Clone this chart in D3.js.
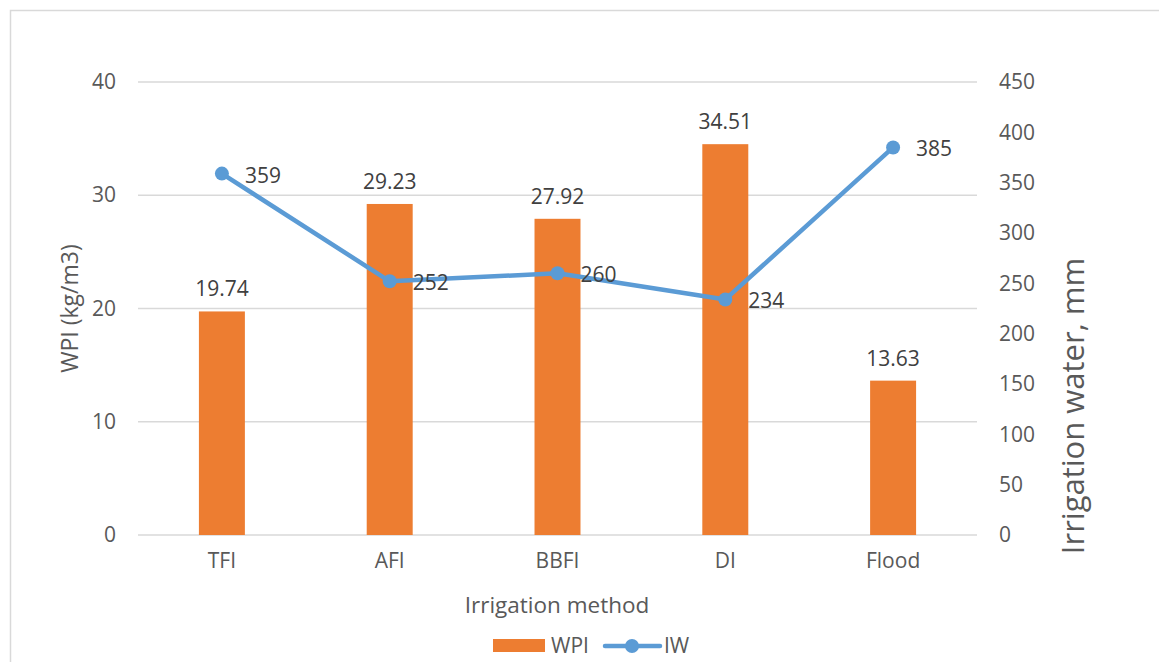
<!DOCTYPE html>
<html>
<head>
<meta charset="utf-8">
<script src="https://cdn.jsdelivr.net/npm/d3@7"></script>
<style>
  html, body { margin: 0; padding: 0; background: #fff; }
  svg { display: block; font-family: "Open Sans", sans-serif; }
</style>
</head>
<body>
<svg id="chart" width="1159" height="662"></svg>
<script>
// Irrigation methods and their measured values
const methods = ["TFI", "AFI", "BBFI", "DI", "Flood"];
const wpiValues = [19.74, 29.23, 27.92, 34.51, 13.63];   // kg/m3
const iwValues = [359, 252, 260, 234, 385];               // mm
const leftTicks = [0, 10, 20, 30, 40];
const rightTicks = [0, 50, 100, 150, 200, 250, 300, 350, 400, 450];

const barColor = "#ED7D31";
const lineColor = "#5B9BD5";
const textColor = "#595959";
const gridColor = "#d9d9d9";
const fs = 21;

const svg = d3.select("#chart");
const plot = { left: 138, right: 977, top: 82, bottom: 535 };

// outer chart frame
svg.append("rect")
  .attr("x", 10.5).attr("y", 10.5)
  .attr("width", 1160).attr("height", 670)
  .attr("fill", "none").attr("stroke", gridColor).attr("stroke-width", 1.5);

const x = d3.scaleBand()
  .domain(methods)
  .range([plot.left, plot.right])
  .paddingInner(0.726)
  .paddingOuter(0.363);

const yL = d3.scaleLinear().domain([0, 40]).range([plot.bottom, plot.top]);
const yR = d3.scaleLinear().domain([0, 450]).range([plot.bottom, plot.top]);

// gridlines
svg.append("g").selectAll("line").data(leftTicks).join("line")
  .attr("x1", plot.left).attr("x2", plot.right)
  .attr("y1", d => yL(d)).attr("y2", d => yL(d))
  .attr("stroke", gridColor).attr("stroke-width", 1.5);

// left axis labels
const leftAxis = svg.append("g")
  .attr("transform", `translate(${plot.left - 22},0)`)
  .call(d3.axisLeft(yL).tickValues(leftTicks).tickSize(0).tickPadding(0));
leftAxis.select(".domain").remove();
leftAxis.selectAll("text")
  .attr("font-size", fs).attr("fill", textColor)
  .attr("font-family", "Open Sans, sans-serif");

// right axis labels
const rightAxis = svg.append("g")
  .attr("transform", `translate(${plot.right + 22},0)`)
  .call(d3.axisRight(yR).tickValues(rightTicks).tickSize(0).tickPadding(0));
rightAxis.select(".domain").remove();
rightAxis.selectAll("text")
  .attr("font-size", fs).attr("fill", textColor)
  .attr("font-family", "Open Sans, sans-serif");

// category axis labels
const bottomAxis = svg.append("g")
  .attr("transform", `translate(0,${plot.bottom + 18})`)
  .call(d3.axisBottom(x).tickSize(0).tickPadding(0));
bottomAxis.select(".domain").remove();
bottomAxis.selectAll("text")
  .attr("font-size", fs).attr("fill", textColor)
  .attr("font-family", "Open Sans, sans-serif");

// WPI bars
const barData = methods.map((m, i) => ({ m, v: wpiValues[i] }));
svg.append("g").selectAll("rect").data(barData).join("rect")
  .attr("x", d => x(d.m))
  .attr("y", d => yL(d.v))
  .attr("width", x.bandwidth())
  .attr("height", d => yL(0) - yL(d.v))
  .attr("fill", barColor);

svg.append("g").selectAll("text").data(barData).join("text")
  .attr("x", d => x(d.m) + x.bandwidth() / 2)
  .attr("y", d => yL(d.v) - 15)
  .attr("text-anchor", "middle")
  .attr("font-size", fs).attr("fill", "#404040")
  .text(d => d.v.toFixed(2));

// IW line
const lineData = methods.map((m, i) => ({ m, v: iwValues[i] }));
const cx = d => x(d.m) + x.bandwidth() / 2;
svg.append("path")
  .datum(lineData)
  .attr("d", d3.line().x(cx).y(d => yR(d.v)))
  .attr("fill", "none").attr("stroke", lineColor)
  .attr("stroke-width", 4.5).attr("stroke-linejoin", "round");

svg.append("g").selectAll("circle").data(lineData).join("circle")
  .attr("cx", cx).attr("cy", d => yR(d.v)).attr("r", 7)
  .attr("fill", lineColor);

svg.append("g").selectAll("text").data(lineData).join("text")
  .attr("x", d => cx(d) + 23)
  .attr("y", d => yR(d.v) + 9)
  .attr("font-size", fs).attr("fill", "#404040")
  .text(d => d.v);

// axis titles
svg.append("text")
  .attr("transform", `translate(78,${(plot.top + plot.bottom) / 2}) rotate(-90)`)
  .attr("text-anchor", "middle")
  .attr("font-size", 23).attr("fill", textColor)
  .text("WPI (kg/m3)");

svg.append("text")
  .attr("transform", `translate(1084,406) rotate(-90)`)
  .attr("text-anchor", "middle")
  .attr("font-size", 31).attr("fill", textColor)
  .text("Irrigation water, mm");

svg.append("text")
  .attr("x", 557).attr("y", 613)
  .attr("text-anchor", "middle")
  .attr("font-size", 22.5).attr("fill", textColor)
  .text("Irrigation method");

// legend
const legend = svg.append("g");
legend.append("rect")
  .attr("x", 493).attr("y", 639).attr("width", 52).attr("height", 13)
  .attr("fill", barColor);
legend.append("text")
  .attr("x", 551).attr("y", 653)
  .attr("font-size", fs).attr("fill", textColor)
  .text("WPI");
legend.append("line")
  .attr("x1", 605).attr("x2", 660).attr("y1", 646).attr("y2", 646)
  .attr("stroke", lineColor).attr("stroke-width", 4.5).attr("stroke-linecap", "round");
legend.append("circle")
  .attr("cx", 632).attr("cy", 646).attr("r", 7).attr("fill", lineColor);
legend.append("text")
  .attr("x", 664).attr("y", 653)
  .attr("font-size", fs).attr("fill", textColor)
  .text("IW");
</script>
</body>
</html>
